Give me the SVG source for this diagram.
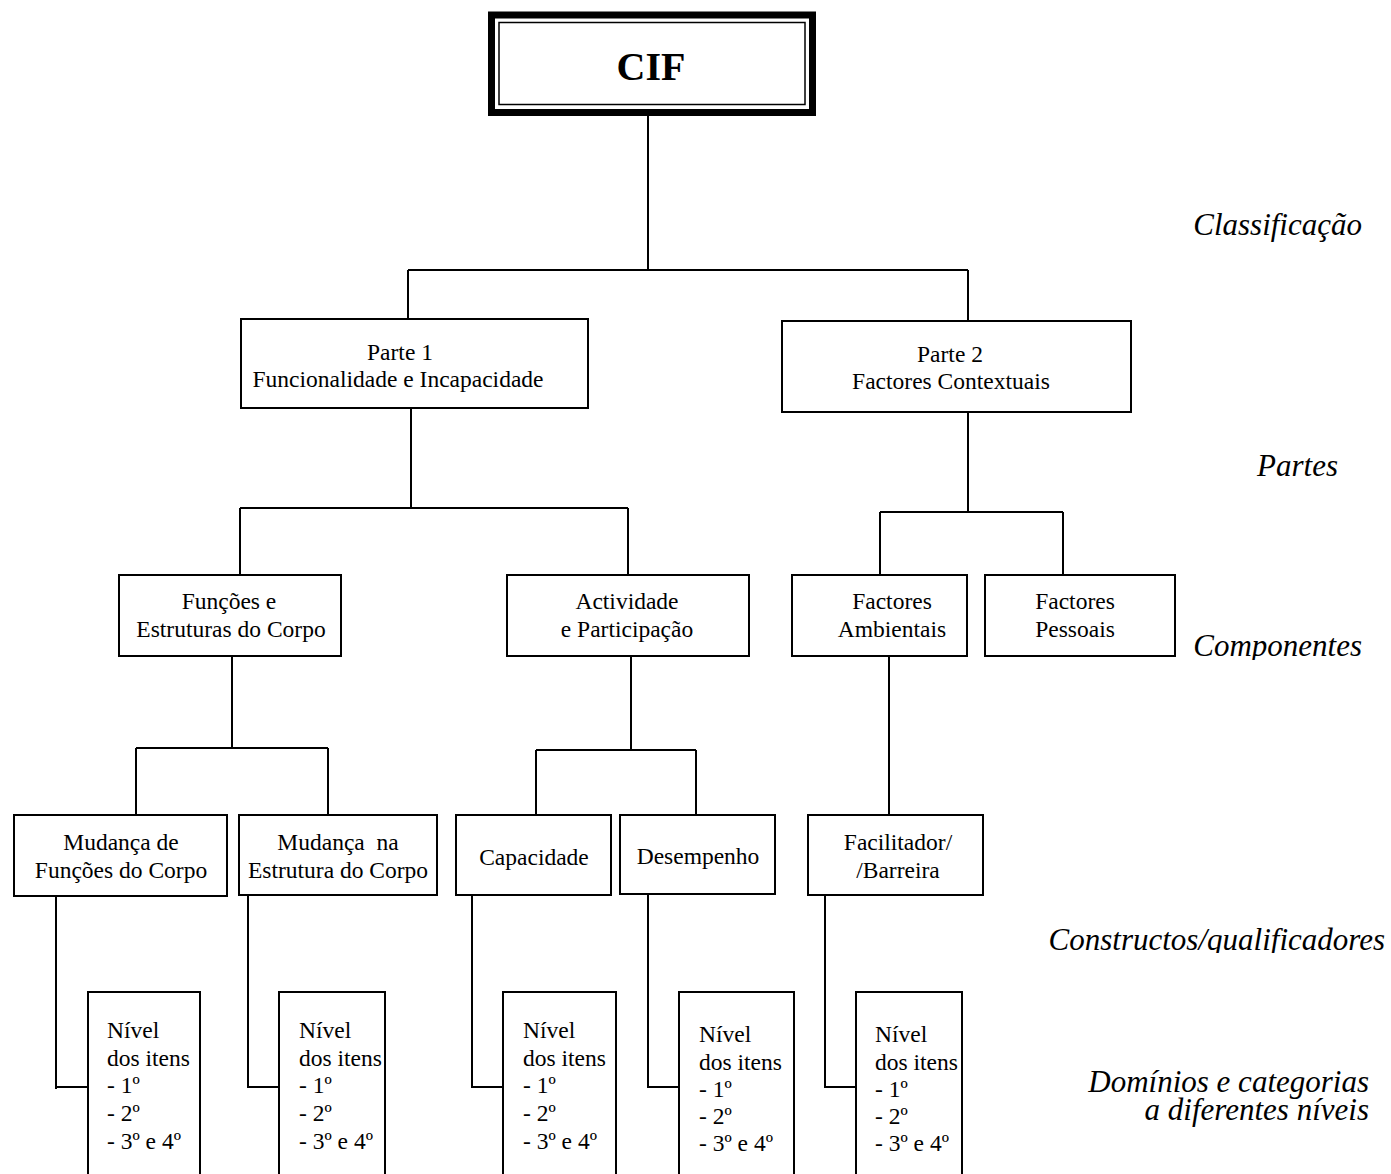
<svg xmlns="http://www.w3.org/2000/svg" width="1391" height="1174" viewBox="0 0 1391 1174">
<defs>
<style>
.box{fill:#fff;stroke:#000;stroke-width:2}
.ln{fill:none;stroke:#000;stroke-width:2}
.t{font-family:"Liberation Serif","Times New Roman",serif;font-size:23.5px;fill:#000}
.c{text-anchor:middle}
.lab{font-family:"Liberation Serif","Times New Roman",serif;font-size:31px;font-style:italic;fill:#000;text-anchor:end}
</style>
<clipPath id="clipComp"><rect x="1100" y="600" width="291" height="60"/></clipPath>
<clipPath id="clipCons"><rect x="1000" y="900" width="391" height="53"/></clipPath>
</defs>
<rect width="1391" height="1174" fill="#fff"/>

<g id="connectors">
<path class="ln" d="M648,112 V270 M408,270 H968 M408,270 V319 M968,270 V321"/>
<path class="ln" d="M411,408 V508 M240,508 H628 M240,508 V575 M628,508 V575"/>
<path class="ln" d="M968,412 V512 M880,512 H1063 M880,512 V575 M1063,512 V575"/>
<path class="ln" d="M232,656 V748 M136,748 H328 M136,748 V815 M328,748 V815"/>
<path class="ln" d="M631,656 V750 M536,750 H696 M536,750 V815 M696,750 V815"/>
<path class="ln" d="M889,656 V815"/>
<path class="ln" d="M56,896 V1089 M56,1087 H88"/>
<path class="ln" d="M248,895 V1087 H279"/>
<path class="ln" d="M472,895 V1087 H503"/>
<path class="ln" d="M648,895 V1087 H679"/>
<path class="ln" d="M825,895 V1087 H856"/>
</g>

<g id="cif">
<rect x="491.5" y="15" width="321" height="97.5" fill="#fff" stroke="#000" stroke-width="7"/>
<rect x="499" y="22.5" width="306" height="82" fill="none" stroke="#000" stroke-width="1.5"/>
<text x="651" y="80" class="c" font-family="Liberation Serif,'Times New Roman',serif" font-size="40" font-weight="bold">CIF</text>
</g>

<g id="parte1">
<rect class="box" x="241" y="319" width="347" height="89"/>
<text class="t c" x="400" y="360">Parte 1</text>
<text class="t c" x="398" y="387">Funcionalidade e Incapacidade</text>
</g>
<g id="parte2">
<rect class="box" x="782" y="321" width="349" height="91"/>
<text class="t c" x="950" y="362">Parte 2</text>
<text class="t c" x="951" y="389">Factores Contextuais</text>
</g>

<g id="funcoes">
<rect class="box" x="119" y="575" width="222" height="81"/>
<text class="t c" x="229" y="609">Funções e</text>
<text class="t c" x="231" y="637">Estruturas do Corpo</text>
</g>
<g id="actividade">
<rect class="box" x="507" y="575" width="242" height="81"/>
<text class="t c" x="627" y="609">Actividade</text>
<text class="t c" x="627" y="637">e Participação</text>
</g>
<g id="ambientais">
<rect class="box" x="792" y="575" width="175" height="81"/>
<text class="t c" x="892" y="609">Factores</text>
<text class="t c" x="892" y="637">Ambientais</text>
</g>
<g id="pessoais">
<rect class="box" x="985" y="575" width="190" height="81"/>
<text class="t c" x="1075" y="609">Factores</text>
<text class="t c" x="1075" y="637">Pessoais</text>
</g>

<g id="mudanca-funcoes">
<rect class="box" x="14" y="815" width="213" height="81"/>
<text class="t c" x="121" y="850">Mudança de</text>
<text class="t c" x="121" y="878">Funções do Corpo</text>
</g>
<g id="mudanca-estrutura">
<rect class="box" x="239" y="815" width="198" height="80"/>
<text class="t c" x="338" y="850" style="white-space:pre">Mudança  na</text>
<text class="t c" x="338" y="878">Estrutura do Corpo</text>
</g>
<g id="capacidade">
<rect class="box" x="456" y="815" width="155" height="80"/>
<text class="t c" x="534" y="865">Capacidade</text>
</g>
<g id="desempenho">
<rect class="box" x="620" y="815" width="155" height="79"/>
<text class="t c" x="698" y="864">Desempenho</text>
</g>
<g id="facilitador">
<rect class="box" x="808" y="815" width="175" height="80"/>
<text class="t c" x="898" y="850">Facilitador/</text>
<text class="t c" x="898" y="878">/Barreira</text>
</g>

<g id="nivel1">
<rect class="box" x="88" y="992" width="112" height="200"/>
<text class="t" x="107" y="1038">Nível</text>
<text class="t" x="107" y="1066">dos itens</text>
<text class="t" x="107" y="1093">- 1º</text>
<text class="t" x="107" y="1121">- 2º</text>
<text class="t" x="107" y="1149">- 3º e 4º</text>
</g>
<g id="nivel2">
<rect class="box" x="279" y="992" width="106" height="200"/>
<text class="t" x="299" y="1038">Nível</text>
<text class="t" x="299" y="1066">dos itens</text>
<text class="t" x="299" y="1093">- 1º</text>
<text class="t" x="299" y="1121">- 2º</text>
<text class="t" x="299" y="1149">- 3º e 4º</text>
</g>
<g id="nivel3">
<rect class="box" x="503" y="992" width="113" height="200"/>
<text class="t" x="523" y="1038">Nível</text>
<text class="t" x="523" y="1066">dos itens</text>
<text class="t" x="523" y="1093">- 1º</text>
<text class="t" x="523" y="1121">- 2º</text>
<text class="t" x="523" y="1149">- 3º e 4º</text>
</g>
<g id="nivel4">
<rect class="box" x="679" y="992" width="115" height="200"/>
<text class="t" x="699" y="1042">Nível</text>
<text class="t" x="699" y="1070">dos itens</text>
<text class="t" x="699" y="1097">- 1º</text>
<text class="t" x="699" y="1124">- 2º</text>
<text class="t" x="699" y="1151">- 3º e 4º</text>
</g>
<g id="nivel5">
<rect class="box" x="856" y="992" width="106" height="200"/>
<text class="t" x="875" y="1042">Nível</text>
<text class="t" x="875" y="1070">dos itens</text>
<text class="t" x="875" y="1097">- 1º</text>
<text class="t" x="875" y="1124">- 2º</text>
<text class="t" x="875" y="1151">- 3º e 4º</text>
</g>

<g id="labels">
<text class="lab" x="1362" y="235">Classificação</text>
<text class="lab" x="1338" y="476">Partes</text>
<text class="lab" x="1362" y="656" clip-path="url(#clipComp)">Componentes</text>
<text class="lab" x="1385" y="950" clip-path="url(#clipCons)">Constructos/qualificadores</text>
<text class="lab" x="1369" y="1092">Domínios e categorias</text>
<text class="lab" x="1369" y="1120">a diferentes níveis</text>
</g>
</svg>
